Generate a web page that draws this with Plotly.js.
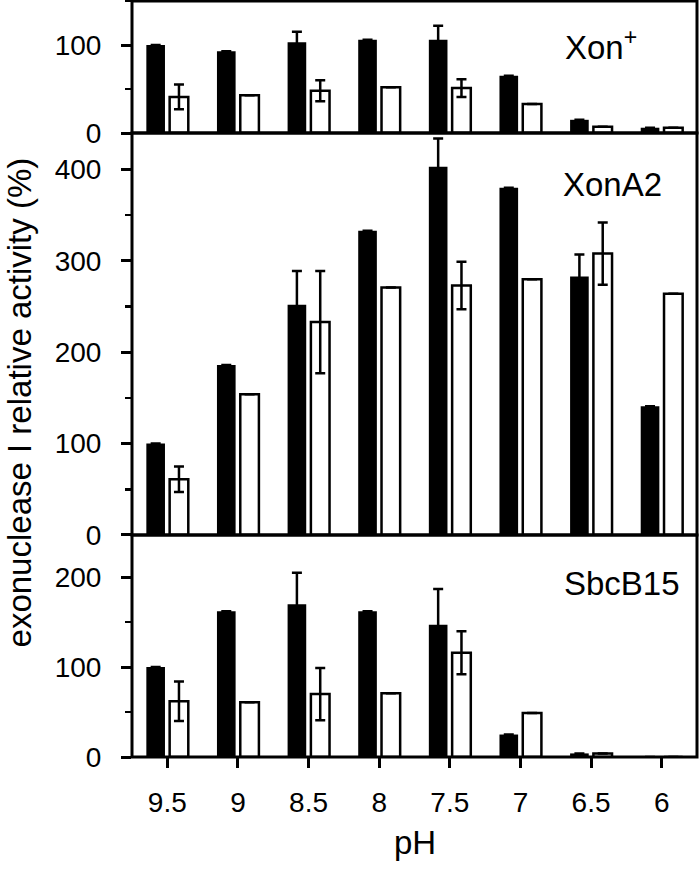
<!DOCTYPE html>
<html><head><meta charset="utf-8">
<script src="https://cdn.plot.ly/plotly-3.0.1.min.js"></script>
<style>body{margin:0;padding:0;background:#fff}#chart{width:700px;height:871px}</style>
</head><body><div id="chart"></div>
<script>
const phLabels = ['9.5','9','8.5','8','7.5','7','6.5','6'];
// Xon+ panel
const xonBlack = [100, 93, 103, 106, 106, 65, 15, 6];
const xonBlackErr = [null, null, 12, null, 16, null, null, null];
const xonWhite = [41, 43, 48, 52, 51, 33, 7, 6];
const xonWhiteErr = [14, null, 12, null, 10, null, null, null];
// XonA2 panel
const a2Black = [100, 186, 252, 333, 403, 380, 283, 141];
const a2BlackErr = [null, null, 37, null, 31, null, 24, null];
const a2White = [61, 154, 233, 271, 273, 280, 308, 264];
const a2WhiteErr = [14, null, 56, null, 26, null, 34, null];
// SbcB15 panel
const sbBlack = [100, 162, 170, 162, 147, 25, 4, 0];
const sbBlackErr = [null, null, 35, null, 40, null, null, null];
const sbWhite = [62, 61, 70, 71, 116, 49, 4, 0];
const sbWhiteErr = [22, null, 29, null, 24, null, null, null];

const panelNames = ['Xon<sup>+</sup>', 'XonA2', 'SbcB15'];
const yTitle = 'exonuclease I relative activity (%)';
const xTitle = 'pH';

const FONT = 'Liberation Sans, Arial, sans-serif';

function blackTrace(y, err, ya) {
  return {type:'bar', x: phLabels, y: y, xaxis:'x', yaxis: ya,
    marker:{color:'#000', line:{color:'#000', width:0}},
    error_y:{type:'data', array: err, visible:true, color:'#000', thickness:2.5, width:5},
    showlegend:false, hoverinfo:'skip'};
}
function whiteTrace(y, err, ya) {
  return {type:'bar', x: phLabels, y: y, xaxis:'x', yaxis: ya,
    marker:{color:'#fff', line:{color:'#000', width:2.5}},
    error_y:{type:'data', array: err, visible:true, color:'#000', thickness:2.5, width:5},
    showlegend:false, hoverinfo:'skip'};
}

const data = [
  blackTrace(sbBlack, sbBlackErr, 'y'), whiteTrace(sbWhite, sbWhiteErr, 'y'),
  blackTrace(a2Black, a2BlackErr, 'y2'), whiteTrace(a2White, a2WhiteErr, 'y2'),
  blackTrace(xonBlack, xonBlackErr, 'y3'), whiteTrace(xonWhite, xonWhiteErr, 'y3')
];

const dB = [0, 0.2937];
const dM = [0.2937, 0.8254];
const dT = [0.8254, 1];

function yax(domain, range) {
  return {domain: domain, range: range, dtick: 100, tick0: 0,
    ticks:'outside', ticklen:10, tickwidth:3, tickcolor:'#000',
    ticklabelstandoff: 14,
    minor:{dtick:50, ticks:'outside', ticklen:6, tickwidth:2.5, tickcolor:'#000', showgrid:false},
    showgrid:false, zeroline:false, showline:false, fixedrange:true,
    tickfont:{family:FONT, size:28, color:'#000'}};
}

const frame = (d) => ({type:'rect', xref:'paper', yref:'paper', x0:0, x1:1, y0:d[0], y1:d[1],
  line:{color:'#000', width:3}, fillcolor:'rgba(0,0,0,0)', layer:'above'});

const layout = {
  width:700, height:871,
  margin:{l:132, r:3, t:1, b:114},
  paper_bgcolor:'#fff', plot_bgcolor:'#fff',
  barmode:'group', bargap:0.34, bargroupgap:0.2,
  font:{family:FONT, color:'#000'},
  xaxis:{anchor:'y', range:[-0.5, 7.5], type:'category',
    ticks:'outside', ticklen:10, tickwidth:3, tickcolor:'#000',
    ticklabelstandoff: 10,
    showgrid:false, zeroline:false, showline:false,
    tickfont:{family:FONT, size:28, color:'#000'}},
  yaxis: yax(dB, [0, 247]),
  yaxis2: yax(dM, [0, 440]),
  yaxis3: yax(dT, [0, 150]),
  shapes:[frame(dB), frame(dM), frame(dT)],
  annotations:[
    {text: panelNames[0], xref:'paper', yref:'paper', x:0.83, y:0.942, xanchor:'center', yanchor:'middle', showarrow:false, font:{family:FONT, size:33, color:'#000'}},
    {text: panelNames[1], xref:'paper', yref:'paper', x:0.85, y:0.757, xanchor:'center', yanchor:'middle', showarrow:false, font:{family:FONT, size:33, color:'#000'}},
    {text: panelNames[2], xref:'paper', yref:'paper', x:0.867, y:0.230, xanchor:'center', yanchor:'middle', showarrow:false, font:{family:FONT, size:33, color:'#000'}},
    {text: yTitle, xref:'paper', yref:'paper', x:-0.2, y:0.469, xanchor:'center', yanchor:'middle', textangle:-90, showarrow:false, font:{family:FONT, size:33, color:'#000'}},
    {text: xTitle, xref:'paper', yref:'paper', x:0.5, y:-0.113, xanchor:'center', yanchor:'middle', showarrow:false, font:{family:FONT, size:33, color:'#000'}}
  ]
};

Plotly.newPlot('chart', data, layout, {displayModeBar:false, staticPlot:true});
</script></body></html>
